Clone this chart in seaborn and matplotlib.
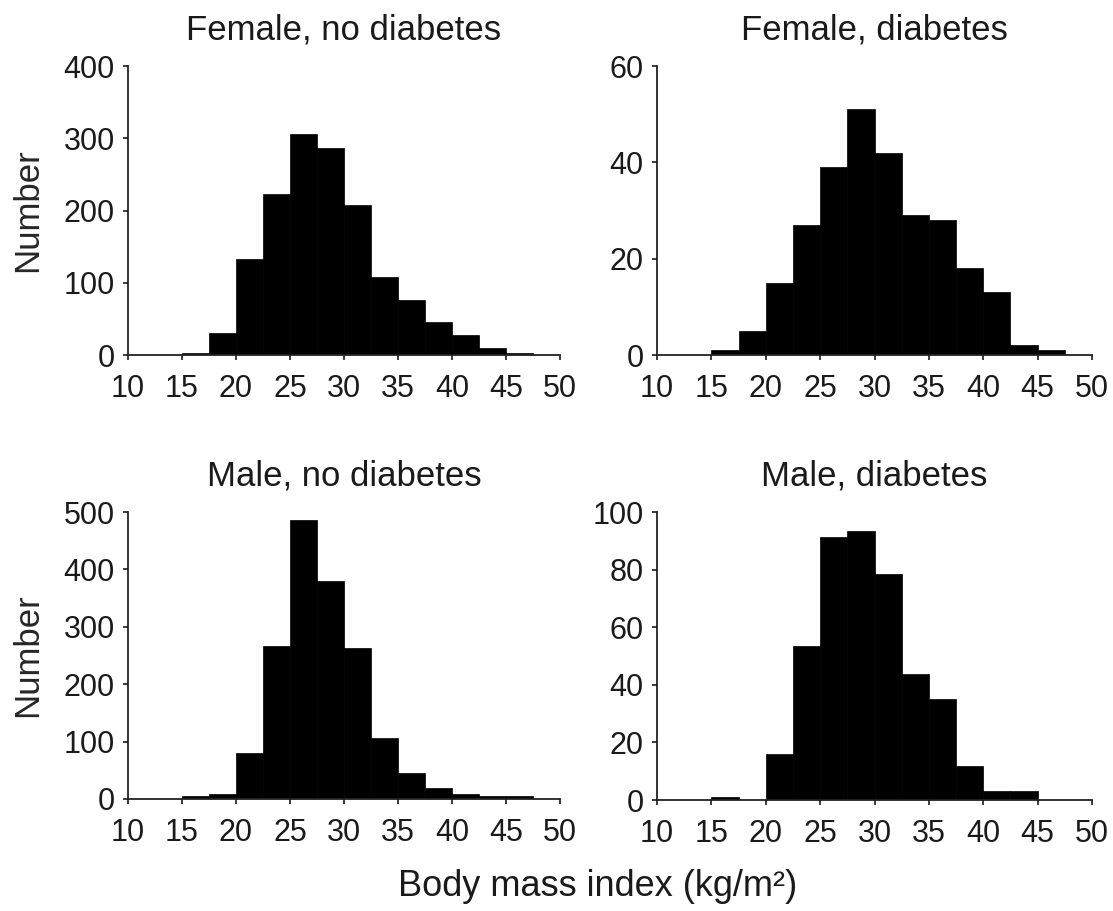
import numpy as np
import matplotlib
matplotlib.use("Agg")
import matplotlib.pyplot as plt
import seaborn as sns

# BMI bins, width 2.5 from 15 to 47.5
bin_edges = [15, 17.5, 20, 22.5, 25, 27.5, 30, 32.5, 35, 37.5, 40, 42.5, 45, 47.5]
bin_starts = bin_edges[:-1]

female_no_diabetes = [3, 30, 133, 223, 306, 287, 208, 108, 76, 45, 27, 10, 3]
female_diabetes = [1, 5, 15, 27, 39, 51, 42, 29, 28, 18, 13, 2, 1]
male_no_diabetes = [5, 9, 81, 267, 486, 380, 263, 107, 46, 20, 9, 5, 5]
male_diabetes = [1, 0, 16, 53.5, 91.3, 93.5, 78.4, 43.6, 35.2, 11.8, 3.2, 3.2, 0]

titles = ["Female, no diabetes", "Female, diabetes", "Male, no diabetes", "Male, diabetes"]
series = [female_no_diabetes, female_diabetes, male_no_diabetes, male_diabetes]
y_max = [400, 60, 500, 100]
y_step = [100, 20, 100, 20]

sns.set_style("ticks")
plt.rcParams["font.family"] = ["Liberation Sans", "DejaVu Sans"]
plt.rcParams["text.color"] = "#1a1a1a"
plt.rcParams["xtick.color"] = "#1a1a1a"
plt.rcParams["ytick.color"] = "#1a1a1a"

fig = plt.figure(figsize=(11.13, 9.11), dpi=100)
W, H = 1113, 911
boxes = [
    (128, 66, 560, 355),
    (657, 66, 1092, 355),
    (128, 512, 560, 799),
    (657, 512, 1092, 800),
]

for i, (l, t, r, b) in enumerate(boxes):
    ax = fig.add_axes([l / W, 1 - b / H, (r - l) / W, (b - t) / H])
    sns.histplot(x=bin_starts, weights=series[i], bins=bin_edges, color="black",
                 alpha=1, edgecolor="black", linewidth=0.5, ax=ax)
    ax.set_xlim(10, 50)
    ax.set_ylim(0, y_max[i])
    ax.set_xticks(np.arange(10, 51, 5))
    ax.set_yticks(np.arange(0, y_max[i] + 1, y_step[i]))
    ax.set_title(titles[i], fontsize=25, pad=19)
    ax.set_xlabel("")
    if i % 2 == 0:
        ax.set_ylabel("Number", fontsize=25)
        ax.yaxis.set_label_coords(-0.195, 0.5)
    else:
        ax.set_ylabel("")
    ax.tick_params(axis="both", labelsize=22, length=3.5, width=1.2)
    ax.tick_params(axis="x", pad=10)
    ax.tick_params(axis="y", pad=6)
    for s in ["left", "bottom"]:
        ax.spines[s].set_linewidth(1.3)
        ax.spines[s].set_color("#222222")
    sns.despine(ax=ax)

fig.text(598 / W, 1 - 886 / H, "Body mass index (kg/m²)", ha="center", va="center", fontsize=26)

plt.savefig("out.png", dpi=100)
plt.close()
